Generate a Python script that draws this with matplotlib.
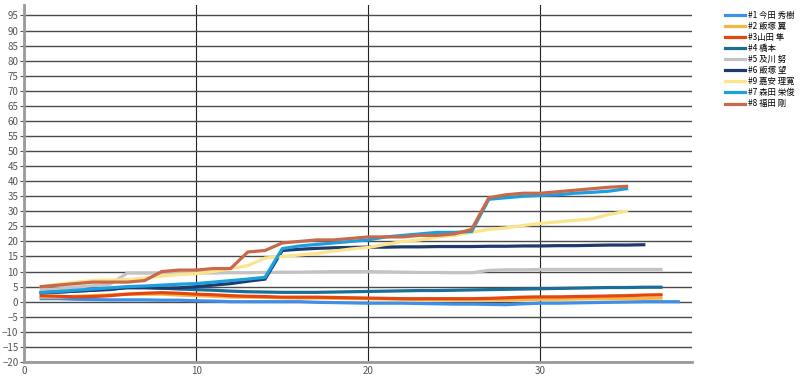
import matplotlib
matplotlib.use('Agg')
from matplotlib import pyplot as plt
import numpy as np

plt.rcParams['font.family'] = ['Noto Sans CJK JP', 'DejaVu Sans']

names = ['#1 今田 秀樹', '#2 飯塚 翼', '#3山田 隼', '#4 橋本', '#5 及川 努',
         '#6 飯塚 望', '#9 嘉安 理寛', '#7 森田 栄俊', '#8 福田 剛']

s1 = [1, 1, 0.8, 0.7, 0.6, 0.6, 0.6, 0.5, 0.5, 0.3, 0.2, 0, 0, 0, 0, 0, -0.2, -0.3, -0.4, -0.5,
      -0.5, -0.5, -0.6, -0.7, -0.8, -0.8, -0.9, -1, -0.7, -0.5, -0.5, -0.4, -0.3, -0.2, -0.1, 0, 0, 0]
s2 = [1.5, 1.5, 1.8, 2, 2.3, 2.5, 2.5, 2.5, 2.2, 2, 1.8, 1.5, 1.5, 1.4, 1.3, 1.2, 1.2, 1.1, 1, 1,
      0.9, 0.8, 0.7, 0.7, 0.6, 0.6, 0.6, 0.6, 0.7, 0.8, 0.8, 0.9, 1, 1, 1, 1.1, 1.2]
s3 = [2, 1.8, 1.6, 1.7, 2, 2.5, 2.8, 3, 2.8, 2.5, 2.3, 2, 1.8, 1.7, 1.5, 1.5, 1.5, 1.4, 1.3, 1.2,
      1.1, 1, 1, 1, 1, 1, 1.1, 1.3, 1.5, 1.6, 1.6, 1.7, 1.8, 1.9, 2, 2.2, 2.3]
s4 = [3, 3.2, 3.5, 3.8, 4, 4.8, 4.8, 4.5, 4.2, 4, 3.8, 3.5, 3.3, 3.2, 3.1, 3.1, 3.1, 3.2, 3.3, 3.4,
      3.5, 3.6, 3.7, 3.7, 3.8, 3.9, 4, 4.1, 4.2, 4.3, 4.4, 4.5, 4.6, 4.7, 4.7, 4.8, 4.8]
s5 = [4, 4.3, 4.8, 5.3, 5.8, 9.5, 9.5, 9.5, 9.5, 9.5, 9.5, 9.6, 9.6, 9.7, 9.8, 9.8, 9.9, 10, 10, 10,
      9.9, 9.8, 9.7, 9.7, 9.6, 9.6, 10.4, 10.6, 10.6, 10.7, 10.7, 10.7, 10.7, 10.7, 10.7, 10.7, 10.7]
s6 = [3, 3.2, 3.5, 3.8, 4.2, 4.6, 4.6, 4.5, 4.6, 5, 5.5, 6, 6.8, 7.5, 17, 17.4, 17.7, 17.9, 18, 18.1,
      18.1, 18.2, 18.2, 18.3, 18.3, 18.3, 18.4, 18.4, 18.5, 18.5, 18.6, 18.6, 18.7, 18.8, 18.8, 18.9]
s9 = [5, 5.8, 6.5, 7, 7.2, 7.3, 7.8, 8.5, 9, 9.3, 10, 11, 12, 14.5, 15, 15.5, 16, 16.8, 17.5, 18,
      19, 20, 20.5, 21.5, 22, 23, 24, 24.5, 25.3, 26, 26.5, 27, 27.5, 29, 30]
s7 = [3, 3.4, 3.8, 4.2, 4.6, 5, 5.2, 5.5, 5.8, 6, 6.5, 7, 7.5, 8.1, 17.6, 18.5, 19, 19.5, 20, 20.5,
      21.5, 22, 22.5, 23, 23, 23.3, 34, 34.5, 35, 35.3, 35.5, 36, 36.3, 36.7, 37.5]
s8 = [5, 5.5, 6, 6.5, 6.5, 6.5, 7, 10, 10.5, 10.5, 11, 11, 16.5, 17, 19.5, 20, 20.5, 20.5, 21, 21.5,
      21.5, 21.5, 22, 22, 22.5, 24, 34.5, 35.5, 36, 36, 36.5, 37, 37.5, 38, 38.3]

series = [s1, s2, s3, s4, s5, s6, s9, s7, s8]
colors = ['#3f8fe8', '#f5b547', '#e4460f', '#1a6e98', '#c3c3c3',
          '#1c3a6c', '#fbe48c', '#1c9fdf', '#c9694b']

fig = plt.figure(figsize=(8, 3.79), dpi=100)
ax = fig.add_axes([0.03, 0.045, 0.835, 0.942])

for name, s, c in zip(names, series, colors):
    x = np.arange(1, len(s) + 1)
    ax.plot(x, s, color=c, lw=2.3, label=name, solid_joinstyle='miter')

ax.set_xlim(0, 38.8)
ax.set_ylim(-20, 98.5)
ax.set_yticks(np.arange(-20, 96, 5))
ax.set_xticks([0, 10, 20, 30])
ax.tick_params(axis='both', labelsize=7, colors='#555555', length=3, width=0.8, pad=1)
ax.tick_params(axis='x', length=0, pad=3)
ax.grid(axis='y', color='#4a4a4a', lw=1.0)
ax.grid(axis='x', color='#222222', lw=0.8)
ax.set_axisbelow(True)
for sp in ['top', 'right']:
    ax.spines[sp].set_visible(False)
for sp in ['left', 'bottom']:
    ax.spines[sp].set_color('#9a9a9a')
    ax.spines[sp].set_linewidth(2)

ax.legend(loc='upper left', bbox_to_anchor=(1.04, 1.0), frameon=False, fontsize=6,
          handlelength=2.4, labelspacing=0.25, handletextpad=0.4, borderaxespad=0.3)

fig.savefig('out.png')
